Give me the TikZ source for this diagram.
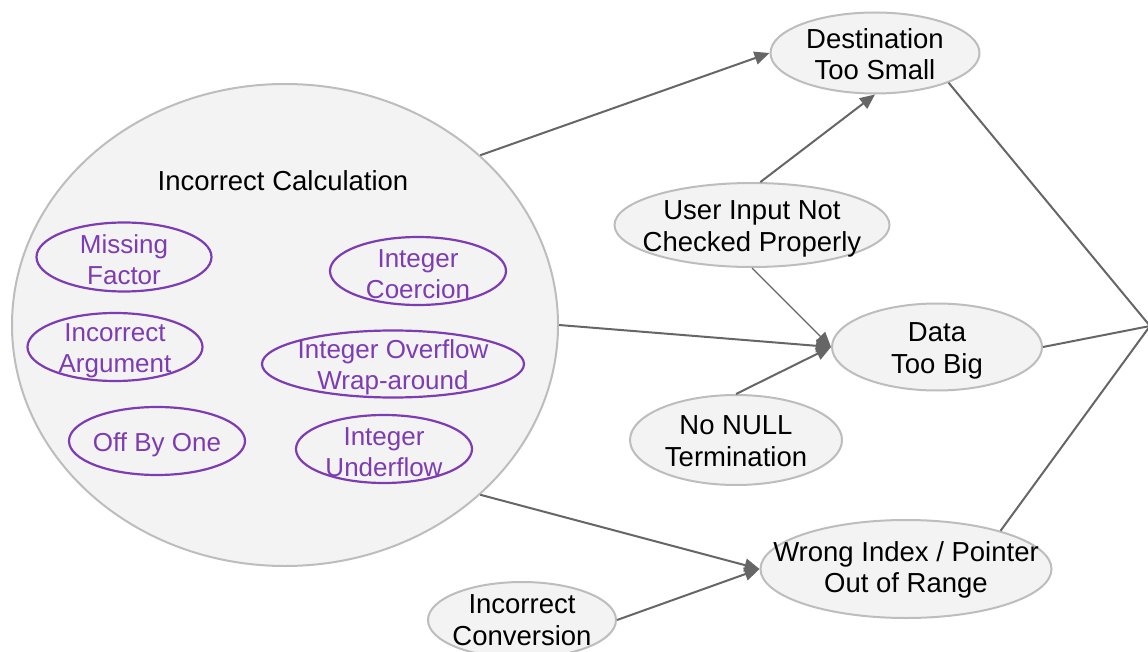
\documentclass[tikz,border=0pt]{standalone}
\usepackage{fontspec}
\setmainfont{Liberation Sans}
\usetikzlibrary{shapes.geometric,arrows.meta}
\definecolor{bgfill}{HTML}{F3F3F3}
\definecolor{rim}{HTML}{BDBDBD}
\definecolor{purp}{HTML}{7D3CB4}
\definecolor{wire}{HTML}{666666}
\tikzset{
  btext/.style={align=center, text=black, inner sep=0pt,
    font=\fontsize{27.5pt}{31.5pt}\selectfont},
  ptext/.style={align=center, text=purp, inner sep=0pt, yshift=-3pt,
    font=\fontsize{26pt}{31pt}\selectfont},
  cause/.style={ellipse, draw=rim, fill=bgfill, line width=2pt, inner sep=0pt},
  sub/.style={ellipse, draw=purp, line width=2.2pt, inner sep=0pt},
  link/.style={draw=wire, line width=2pt, -{Triangle[length=15pt,width=13pt]}},
  merge/.style={draw=wire, line width=2pt},
}
\begin{document}
\begin{tikzpicture}[x=1pt,y=-1pt]
\clip (0,0) rectangle (1148,652);
\fill[white] (0,0) rectangle (1148,652);

% the large calculation group with its sub-causes
\node[cause, minimum width=546pt, minimum height=482pt] (calc) at (285,325) {};
\node[btext] (calct) at (283,181) {Incorrect Calculation};
\node[sub, minimum width=175pt, minimum height=69pt,
  label={[ptext]center:Missing\\Factor}] (mf) at (124,257) {};
\node[sub, minimum width=176pt, minimum height=68pt,
  label={[ptext]center:Integer\\Coercion}] (ic) at (418,271) {};
\node[sub, minimum width=175pt, minimum height=68pt,
  label={[ptext, yshift=-1pt]center:Incorrect\\Argument}] (ia) at (115,347) {};
\node[sub, minimum width=262pt, minimum height=67pt,
  label={[ptext]center:Integer Overflow\\Wrap-around}] (io) at (393,364) {};
\node[sub, minimum width=176pt, minimum height=68pt,
  label={[ptext, yshift=-1pt]center:Off By One}] (obo) at (157,441) {};
\node[sub, minimum width=176pt, minimum height=68pt,
  label={[ptext]center:Integer\\Underflow}] (iu) at (384,449) {};

% intermediate causes
\node[cause, minimum width=209pt, minimum height=81pt,
  label={[btext, yshift=-1pt]center:Destination\\Too Small}] (dest) at (875,53) {};
\node[cause, minimum width=275pt, minimum height=84pt,
  label={[btext, yshift=-4pt]center:User Input Not\\Checked Properly}] (user) at (752,225) {};
\node[cause, minimum width=210pt, minimum height=87pt,
  label={[btext, yshift=-4pt]center:Data\\Too Big}] (data) at (937,347) {};
\node[cause, minimum width=212pt, minimum height=90pt,
  label={[btext, yshift=-1pt]center:No NULL\\Termination}] (nonull) at (736,440) {};
\node[cause, minimum width=291pt, minimum height=98pt,
  label={[btext, yshift=-1pt]center:Wrong Index / Pointer\\Out of Range}] (wrong) at (906,569) {};
\node[cause, minimum width=188pt, minimum height=76pt,
  label={[btext]center:Incorrect\\Conversion}] (conv) at (522,620) {};

\coordinate (sink) at (1150,326);

% connectors
\draw[link] (calc.41.6) -- (dest.west);
\draw[link] (user.79) -- (dest.south);
\draw[link] (calc.east) -- (data.west);
\draw[link, line width=1.3pt] (user.south) -- (data.west);
\draw[link] (nonull.north) -- (data.west);
\draw[link] (calc.-41) -- (wrong.west);
\draw[link] (conv.east) -- (wrong.west);
\draw[merge] (dest.-22) -- (sink);
\draw[merge] (data.east) -- (sink);
\draw[merge] (wrong.22) -- (sink);
\end{tikzpicture}
\end{document}
